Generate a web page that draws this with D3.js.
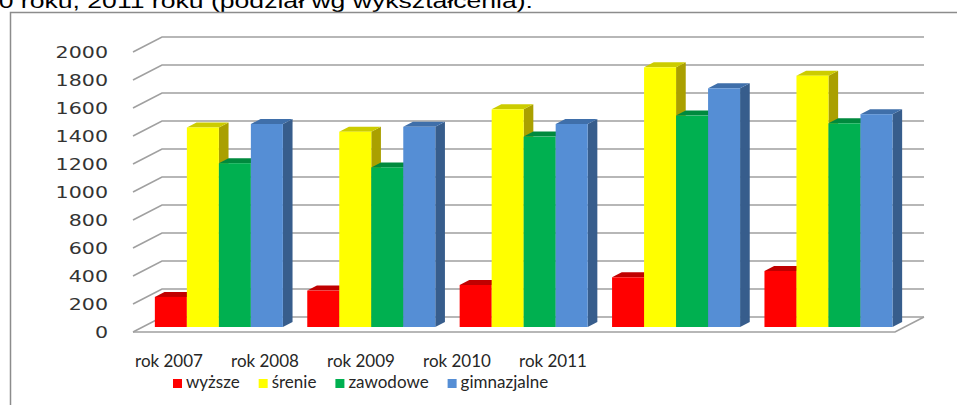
<!DOCTYPE html>
<html>
<head>
<meta charset="utf-8">
<script src="https://cdn.jsdelivr.net/npm/d3@7"></script>
<style>
  body { margin: 0; background: #fff; }
  svg { display: block; }
</style>
</head>
<body>
<svg id="chart"></svg>
<script>
// data
const years = ["rok 2007", "rok 2008", "rok 2009", "rok 2010", "rok 2011"];
const seriesNames = ["wyższe", "śrenie", "zawodowe", "gimnazjalne"];
const wyzsze = [215, 260, 300, 355, 400];
const srednie = [1425, 1395, 1555, 1855, 1795];
const zawodowe = [1170, 1140, 1360, 1510, 1455];
const gimnazjalne = [1450, 1430, 1450, 1705, 1520];
const yTicks = [0, 200, 400, 600, 800, 1000, 1200, 1400, 1600, 1800, 2000];

const seriesValues = [wyzsze, srednie, zawodowe, gimnazjalne];
const front = ["#ff0000", "#ffff00", "#00b050", "#558ed5"];
const topC = ["#c00000", "#cccc00", "#008a3e", "#3f6faa"];
const sideC = ["#b00000", "#aaa000", "#007a36", "#375d8c"];

const width = 957, height = 405;
const svg = d3.select("#chart").attr("width", width).attr("height", height);

// stretched look of the original picture
const stretch = 1.33;

// title, cut at the top of the picture
svg.append("text")
    .attr("transform", `translate(533,8) scale(${stretch},1)`)
    .attr("text-anchor", "end")
    .attr("font-family", "Liberation Sans, Arial, sans-serif")
    .attr("font-size", "20px")
    .attr("fill", "#000")
    .text("2010 roku, 2011 roku (podział wg wykształcenia):");

// chart frame (left and top only are visible)
svg.append("path")
    .attr("d", "M10.5,405 L10.5,12.5 L957,12.5")
    .attr("fill", "none")
    .attr("stroke", "#8c8c8c")
    .attr("stroke-width", 1.5);

// 3d geometry
const x0 = 133, x1 = 895;
const depth = { dx: 29, dy: -15 };
const y = d3.scaleLinear().domain([0, 2000]).range([332, 52]);
const x = d3.scaleBand().domain(years).range([x0, x1]).paddingInner(0.16).paddingOuter(0.08);
const xs = d3.scaleBand().domain(seriesNames).range([0, x.bandwidth()]);

// walls and gridlines
const grid = svg.append("g")
    .attr("fill", "none")
    .attr("stroke", "#a0a0a0")
    .attr("stroke-width", 1.6);

yTicks.forEach(v => {
    const yf = y(v);
    grid.append("path")
        .attr("d", `M${x0},${yf} L${x0 + depth.dx},${yf + depth.dy} L${x1 + depth.dx},${yf + depth.dy}`);
});
// floor front edge
grid.append("path")
    .attr("d", `M${x0},${y(0)} L${x1},${y(0)} L${x1 + depth.dx},${y(0) + depth.dy}`);

// y axis labels
const yAxis = svg.append("g")
    .attr("transform", "translate(108,1)")
    .call(d3.axisLeft(y).tickValues(yTicks).tickFormat(d3.format("d")).tickSize(0).tickPadding(0));
yAxis.select(".domain").remove();
yAxis.selectAll("text")
    .attr("font-family", "DejaVu Sans, Verdana, sans-serif")
    .attr("font-size", "15.5px")
    .attr("fill", "#333")
    .attr("transform", `scale(${stretch},1)`);

// bars: front face sits a third of the way into the floor depth
const bx = depth.dx / 3, by = depth.dy / 3;
const bars = svg.append("g");
years.forEach((yr, i) => {
    seriesNames.forEach((s, k) => {
        const v = seriesValues[k][i];
        const left = x(yr) + xs(s) + bx;
        const right = left + xs.bandwidth();
        const bottom = y(0) + by;
        const top = y(v) + by;
        const g = bars.append("g");
        g.append("path")
            .attr("d", `M${right},${bottom} L${right + bx},${bottom + by} L${right + bx},${top + by} L${right},${top} Z`)
            .attr("fill", sideC[k]);
        g.append("path")
            .attr("d", `M${left},${top} L${left + bx},${top + by} L${right + bx},${top + by} L${right},${top} Z`)
            .attr("fill", topC[k]);
        g.append("rect")
            .attr("x", left)
            .attr("y", top)
            .attr("width", xs.bandwidth())
            .attr("height", bottom - top)
            .attr("fill", front[k]);
    });
});

// category labels (placed compressed to the left, as in the original)
const labelFont = "Lato, sans-serif";
const xl = d3.scaleBand().domain(years).range([121, 601]);
svg.append("g").selectAll("text")
    .data(years)
    .join("text")
    .attr("transform", d => `translate(${xl(d) + xl.bandwidth() / 2},367)`)
    .attr("text-anchor", "middle")
    .attr("font-family", labelFont)
    .attr("font-size", "17px")
    .attr("fill", "#262626")
    .text(d => d);

// legend
const legend = svg.append("g").attr("transform", "translate(173,388)");
let lx = 0;
seriesNames.forEach((s, k) => {
    legend.append("rect")
        .attr("x", lx).attr("y", -9)
        .attr("width", 9).attr("height", 9)
        .attr("fill", front[k]);
    const t = legend.append("text")
        .attr("x", lx + 13)
        .attr("font-family", labelFont)
        .attr("font-size", "17px")
        .attr("fill", "#262626")
        .text(s);
    lx += 13 + t.node().getComputedTextLength() + 19;
});
</script>
</body>
</html>
